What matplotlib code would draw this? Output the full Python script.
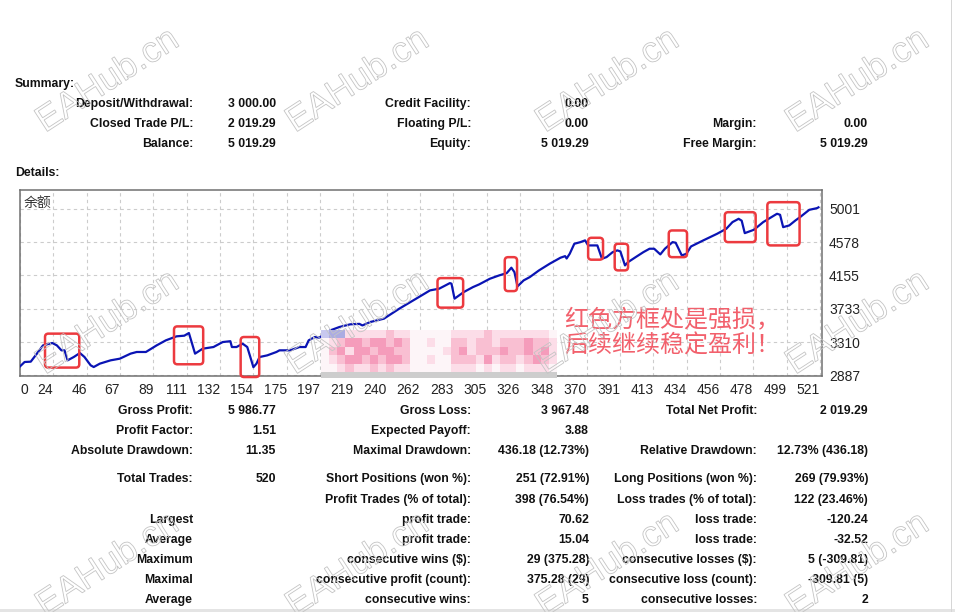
import matplotlib
matplotlib.use("Agg")
import numpy as np
import matplotlib.pyplot as plt
from matplotlib.patches import FancyBboxPatch, Rectangle, PathPatch
from matplotlib.textpath import TextPath
from matplotlib.font_manager import FontProperties
from matplotlib.transforms import Affine2D

W, H = 955, 612

# balance curve (trade number, balance)
trade_idx = [0, 3, 7, 11, 15, 21, 24, 27, 29, 31, 35, 39, 42, 46, 48, 52, 59, 65, 72, 76,
             82, 89, 95, 102, 107, 110, 114, 119, 126, 132, 137, 138, 141, 145, 148, 150,
             152, 154, 156, 161, 167, 169, 176, 182, 186, 188, 192, 195, 202, 208, 215,
             221, 223, 228, 237, 247, 258, 267, 273, 280, 281, 283, 289, 295, 299, 306,
             312, 317, 320, 322, 324, 328, 332, 338, 345, 352, 355, 356, 358, 361, 365,
             368, 370, 376, 379, 382, 386, 389, 391, 394, 396, 401, 406, 410, 413, 417,
             420, 425, 427, 431, 434, 437, 445, 454, 460, 464, 468, 470, 472, 478, 484,
             493, 495, 497, 501, 505, 508, 514, 519, 520]
balance = [3000, 3056, 3060, 3162, 3267, 3297, 3267, 3204, 3204, 3077, 3119, 3170, 3119,
           3014, 2992, 3035, 3077, 3098, 3162, 3183, 3183, 3267, 3331, 3382, 3390, 3424,
           3162, 3225, 3246, 3309, 3320, 3246, 3246, 3288, 3246, 3119, 2990, 3035, 3119,
           3140, 3183, 3204, 3204, 3246, 3246, 3331, 3373, 3365, 3457, 3500, 3534, 3540,
           3520, 3563, 3606, 3733, 3860, 3965, 3987, 4058, 4050, 3860, 3944, 4007, 4041,
           4113, 4155, 4185, 4253, 4197, 4016, 4092, 4134, 4219, 4304, 4380, 4400, 4370,
           4430, 4557, 4578, 4600, 4536, 4536, 4367, 4388, 4451, 4473, 4460, 4282, 4324,
           4388, 4451, 4494, 4494, 4422, 4494, 4578, 4570, 4409, 4430, 4523, 4600, 4684,
           4748, 4832, 4874, 4850, 4692, 4735, 4832, 4938, 4925, 4768, 4790, 4853, 4895,
           4988, 5009, 5019.29]

x_tick_labels = ["0", "24", "46", "67", "89", "111", "132", "154", "175", "197", "219", "240",
                 "262", "283", "305", "326", "348", "370", "391", "413", "434", "456", "478",
                 "499", "521"]
y_tick_labels = ["2887", "3310", "3733", "4155", "4578", "5001"]

# red boxes around the losing stretches: (x0, x1, y0, y1)
loss_boxes = [(16.3, 38.6, 2985, 3416), (100.3, 119.3, 3027, 3508), (143.7, 155.8, 2865, 3373),
              (271.9, 288.6, 3746, 4121), (315.7, 323.7, 3956, 4387), (370, 379.7, 4355, 4633),
              (387.3, 396, 4219, 4557), (422.5, 434.4, 4387, 4726), (459, 479.1, 4578, 4958),
              (486.7, 507.7, 4536, 5085)]

summary_rows = [104, 124, 144]
summary_cols = [
    ["Deposit/Withdrawal:", "Closed Trade P/L:", "Balance:"],
    ["3 000.00", "2 019.29", "5 019.29"],
    ["Credit Facility:", "Floating P/L:", "Equity:"],
    ["0.00", "0.00", "5 019.29"],
    ["", "Margin:", "Free Margin:"],
    ["", "0.00", "5 019.29"],
]
detail_rows = [411, 431, 451, 479, 500, 520, 540, 560, 580, 600]
detail_cols = [
    ["Gross Profit:", "Profit Factor:", "Absolute Drawdown:", "Total Trades:", "",
     "Largest", "Average", "Maximum", "Maximal", "Average"],
    ["5 986.77", "1.51", "11.35", "520", "", "", "", "", "", ""],
    ["Gross Loss:", "Expected Payoff:", "Maximal Drawdown:", "Short Positions (won %):",
     "Profit Trades (% of total):", "profit trade:", "profit trade:", "consecutive wins ($):",
     "consecutive profit (count):", "consecutive wins:"],
    ["3 967.48", "3.88", "436.18 (12.73%)", "251 (72.91%)", "398 (76.54%)", "70.62", "15.04",
     "29 (375.28)", "375.28 (29)", "5"],
    ["Total Net Profit:", "", "Relative Drawdown:", "Long Positions (won %):",
     "Loss trades (% of total):", "loss trade:", "loss trade:", "consecutive losses ($):",
     "consecutive loss (count):", "consecutive losses:"],
    ["2 019.29", "", "12.73% (436.18)", "269 (79.93%)", "122 (23.46%)", "-120.24", "-32.52",
     "5 (-309.81)", "-309.81 (5)", "2"],
]
col_right = [193, 276, 471, 589, 757, 868]

# pixelated patch over a name
mosaic_rows = [
    "bBB11111211000001111211111110",
    "01233233232001002212212223221",
    "02313323322000012312223223231",
    "01233232332001002221312212321",
    "00121121211000001110101101110",
]
mosaic_colors = {"0": "#fdf5f8", "1": "#fcdde8", "2": "#f9bfd2", "3": "#f59cbb",
                 "b": "#c8c8ef", "B": "#acace2"}


def fx(px):
    return px / W


def fy(py):
    return 1 - py / H


fig = plt.figure(figsize=(W / 100, H / 100), dpi=100)
fig.patch.set_facecolor("white")
txt_font = dict(family="Liberation Sans", fontweight="bold", fontsize=8.8, color="#111111")

fig.text(fx(15), fy(84), "Summary:", ha="left", va="center", **txt_font)
fig.text(fx(15), fy(173), "Details:", ha="left", va="center", **txt_font)
for col, items in enumerate(summary_cols):
    for row_y, s in zip(summary_rows, items):
        if s:
            fig.text(fx(col_right[col]), fy(row_y), s, ha="right", va="center", **txt_font)
for col, items in enumerate(detail_cols):
    for row_y, s in zip(detail_rows, items):
        if s:
            fig.text(fx(col_right[col]), fy(row_y), s, ha="right", va="center", **txt_font)

# chart
ax = fig.add_axes([fx(20), fy(376), fx(802), 186 / H])
ax.plot(trade_idx, balance, color="#0a14b4", lw=1.6, zorder=3)
ystep = (5001 - 2887) / 5
ax.set_ylim(2887 - 0.7 * ystep / 33.3, 2887 + (376 - 190 - 0.7) * ystep / 33.3)
ax.set_xlim(0, 521 * 802 / 800)
xt = np.arange(len(x_tick_labels)) * 521 / 24
yt = 2887 + np.arange(len(y_tick_labels)) * ystep
ax.set_xticks(xt)
ax.set_xticklabels(x_tick_labels, family="Liberation Sans", fontsize=10, color="#222222")
for i, lab in enumerate(ax.get_xticklabels()):
    lab.set_ha("left" if i == 0 else "right")
ax.set_yticks(yt)
ax.set_yticklabels(y_tick_labels, family="Liberation Sans", fontsize=10, color="#222222")
ax.yaxis.tick_right()
ax.tick_params(axis="both", length=0)
ax.tick_params(axis="x", pad=5)
ax.tick_params(axis="y", pad=5)
ax.grid(True, color="#cccccc", ls=(0, (3, 3)), lw=0.8)
for sp in ax.spines.values():
    sp.set_color("#707070")
    sp.set_linewidth(1.1)
ax.text(0.004, 0.93, "余额", transform=ax.transAxes, ha="left", va="center",
        family=["Noto Sans CJK SC", "DejaVu Sans"], fontsize=10, color="#333333")

asp = (ystep / 33.3) / (521 / 800)
for x0, x1, y0, y1 in loss_boxes:
    ax.add_patch(FancyBboxPatch((x0, y0), x1 - x0, y1 - y0,
                                boxstyle="round,pad=0,rounding_size=2.2",
                                mutation_aspect=asp, fill=False, ec="#ec3a3f", lw=1.8,
                                zorder=5, clip_on=False))

fig.text(fx(564), fy(333), "红色方框处是强损，\n后续继续稳定盈利！", ha="left", va="center",
         family=["Noto Sans CJK SC", "DejaVu Sans"], fontsize=17.3, color="#f2606c",
         linespacing=1.0, zorder=10)

# mosaic
rgb = np.array([[matplotlib.colors.to_rgb(mosaic_colors[c]) for c in r] for r in mosaic_rows])
max_ = fig.add_axes([fx(321), fy(372), fx(236), 42 / H], zorder=6)
max_.imshow(rgb, aspect="auto", interpolation="nearest")
max_.axis("off")
fig.add_artist(Rectangle((fx(321), fy(378)), fx(236), 6 / H, transform=fig.transFigure,
                         fc="#cdcdcd", ec="none", zorder=6))

# page edges
fig.add_artist(Rectangle((0, 0), 1, 3 / H, transform=fig.transFigure, fc="#e4e4e4", ec="none"))
fig.add_artist(Rectangle((fx(951), 0), 1 / W, 1, transform=fig.transFigure, fc="#d6d6d6",
                         ec="none"))

# watermarks
wm_font = FontProperties(family="Liberation Sans")
wm_path = TextPath((0, 0), "EAHub.cn", size=36, prop=wm_font)
for j in range(3):
    for i in range(4):
        x0 = 45 + 250 * i
        y0 = 133 + 242 * j
        tr = Affine2D().rotate_deg(33).translate(x0, H - y0)
        fig.add_artist(PathPatch(wm_path, transform=tr, fill=False, ec="#c4c4c4", lw=0.6,
                                 zorder=20))

fig.savefig("out.png", dpi=100, facecolor="white")
